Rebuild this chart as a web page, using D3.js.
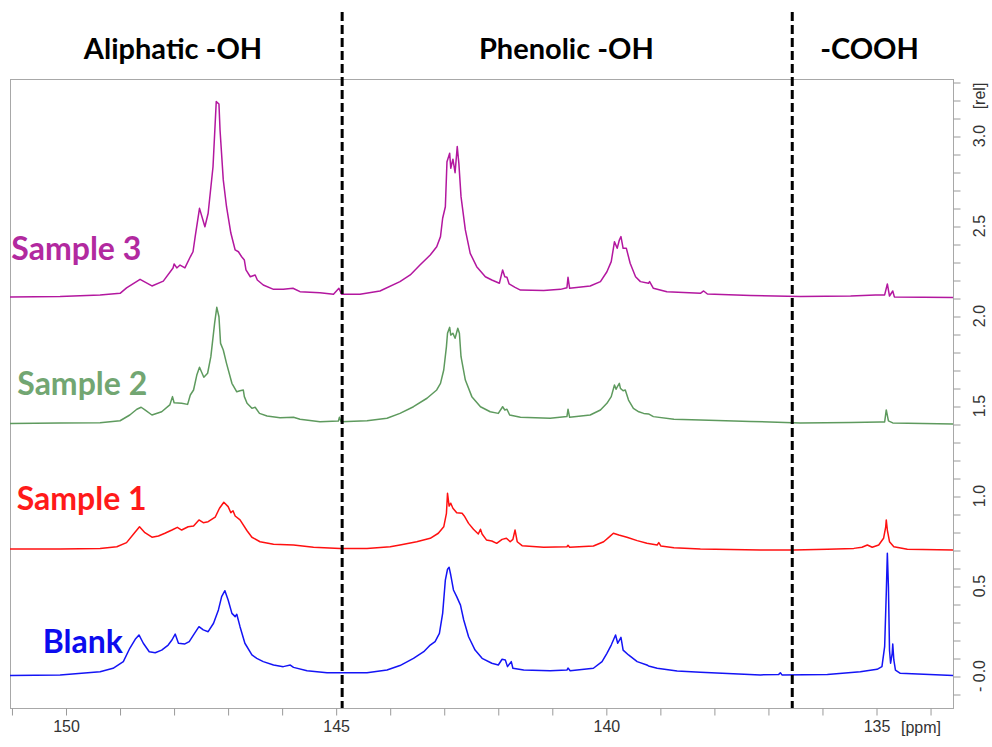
<!DOCTYPE html>
<html>
<head>
<meta charset="utf-8">
<script src="https://cdn.jsdelivr.net/npm/d3@7"></script>
<style>
  html, body { margin: 0; padding: 0; background: #fff; }
  svg { display: block; }
</style>
</head>
<body>
<svg id="chart" width="992" height="747"></svg>
<script>
// 31P NMR spectra, chemical shift in ppm vs. relative intensity (stacked traces)
const blankData = [
  [151.03,0.003],[150.10,0.006],[149.36,0.024],[149.12,0.043],[148.93,0.080],[148.81,0.154],[148.71,0.204],[148.64,0.228],
  [148.56,0.182],[148.45,0.135],[148.34,0.129],[148.22,0.144],[148.10,0.172],[148.03,0.200],[147.97,0.233],[147.91,0.182],
  [147.79,0.178],[147.71,0.191],[147.63,0.228],[147.53,0.274],[147.45,0.256],[147.36,0.246],[147.26,0.293],[147.17,0.367],
  [147.11,0.441],[147.05,0.474],[146.99,0.422],[146.92,0.348],[146.86,0.330],[146.83,0.343],[146.77,0.274],[146.68,0.182],
  [146.55,0.117],[146.46,0.098],[146.34,0.080],[146.15,0.061],[145.97,0.052],[145.84,0.061],[145.78,0.048],[145.53,0.029],
  [145.16,0.018],[144.92,0.018],[144.42,0.018],[144.05,0.033],[143.81,0.058],[143.56,0.098],[143.37,0.135],[143.25,0.172],
  [143.16,0.191],[143.08,0.237],[143.02,0.348],[142.97,0.533],[142.93,0.593],[142.90,0.604],[142.87,0.561],[142.82,0.478],
  [142.76,0.441],[142.69,0.394],[142.63,0.311],[142.54,0.218],[142.42,0.144],[142.29,0.098],[142.11,0.071],[141.99,0.061],
  [141.92,0.093],[141.86,0.089],[141.82,0.052],[141.75,0.080],[141.72,0.043],[141.52,0.033],[141.03,0.029],[140.72,0.033],
  [140.70,0.044],[140.66,0.029],[140.23,0.043],[140.07,0.080],[139.98,0.126],[139.90,0.172],[139.82,0.228],[139.78,0.182],
  [139.72,0.215],[139.68,0.144],[139.58,0.117],[139.42,0.080],[139.24,0.061],[139.21,0.056],[139.05,0.043],[138.68,0.028],
  [138.25,0.021],[137.14,0.006],[136.80,0.009],[136.77,0.018],[136.74,0.006],[135.90,0.009],[135.29,0.024],[134.98,0.037],
  [134.89,0.052],[134.84,0.163],[134.81,0.460],[134.79,0.682],[134.77,0.496],[134.75,0.144],[134.73,0.071],[134.70,0.126],
  [134.69,0.178],[134.67,0.089],[134.64,0.033],[134.55,0.015],[133.56,0.002]
];

const sample1Data = [
  [151.03,0.706],[150.10,0.706],[149.36,0.709],[149.05,0.718],[148.87,0.741],[148.74,0.789],[148.63,0.829],[148.53,0.796],
  [148.40,0.771],[148.28,0.778],[148.16,0.793],[148.03,0.811],[147.93,0.826],[147.85,0.811],[147.73,0.829],[147.63,0.833],
  [147.53,0.867],[147.45,0.852],[147.36,0.857],[147.23,0.882],[147.15,0.932],[147.07,0.965],[146.99,0.941],[146.94,0.907],
  [146.90,0.918],[146.86,0.889],[146.77,0.867],[146.64,0.807],[146.55,0.771],[146.40,0.746],[146.15,0.732],[145.78,0.728],
  [145.41,0.715],[144.92,0.709],[144.42,0.709],[143.99,0.718],[143.81,0.728],[143.50,0.746],[143.25,0.765],[143.10,0.793],
  [143.00,0.829],[142.95,0.904],[142.93,1.015],[142.90,0.944],[142.87,0.960],[142.83,0.932],[142.76,0.907],[142.66,0.904],
  [142.62,0.889],[142.54,0.848],[142.45,0.815],[142.36,0.789],[142.32,0.815],[142.29,0.789],[142.21,0.756],[142.11,0.750],
  [142.02,0.737],[141.92,0.759],[141.84,0.765],[141.77,0.746],[141.72,0.759],[141.68,0.811],[141.64,0.746],[141.55,0.724],
  [141.15,0.715],[140.72,0.718],[140.70,0.726],[140.67,0.715],[140.23,0.722],[140.04,0.746],[139.93,0.774],[139.86,0.793],
  [139.76,0.783],[139.61,0.771],[139.42,0.752],[139.24,0.737],[139.05,0.728],[139.02,0.741],[138.98,0.722],[138.74,0.713],
  [138.25,0.706],[137.14,0.700],[136.52,0.700],[135.90,0.704],[135.41,0.709],[135.26,0.715],[135.16,0.728],[135.07,0.715],
  [134.95,0.728],[134.86,0.765],[134.82,0.829],[134.81,0.867],[134.79,0.811],[134.75,0.746],[134.67,0.718],[134.42,0.704],
  [133.57,0.700]
];

const sample2Data = [
  [151.03,1.403],[150.10,1.406],[149.36,1.407],[148.99,1.418],[148.81,1.450],[148.68,1.482],[148.60,1.493],[148.53,1.478],
  [148.40,1.450],[148.22,1.468],[148.07,1.506],[148.02,1.552],[147.99,1.518],[147.85,1.515],[147.74,1.509],[147.69,1.561],
  [147.63,1.589],[147.57,1.672],[147.52,1.715],[147.44,1.660],[147.37,1.682],[147.31,1.774],[147.24,1.960],[147.20,2.048],
  [147.16,1.996],[147.13,1.848],[147.08,1.811],[147.02,1.737],[146.92,1.626],[146.83,1.579],[146.77,1.585],[146.71,1.589],
  [146.69,1.552],[146.64,1.515],[146.55,1.487],[146.49,1.493],[146.41,1.459],[146.27,1.444],[146.03,1.435],[145.78,1.437],
  [145.66,1.426],[145.29,1.413],[144.95,1.417],[144.93,1.437],[144.90,1.413],[144.42,1.418],[144.05,1.432],[143.81,1.459],
  [143.56,1.496],[143.31,1.543],[143.13,1.589],[143.06,1.626],[143.00,1.700],[142.95,1.830],[142.93,1.904],[142.89,1.937],
  [142.87,1.894],[142.83,1.904],[142.79,1.876],[142.74,1.932],[142.71,1.904],[142.68,1.774],[142.60,1.644],[142.48,1.552],
  [142.32,1.496],[142.14,1.468],[141.99,1.459],[141.91,1.496],[141.87,1.478],[141.83,1.482],[141.78,1.450],[141.58,1.437],
  [141.03,1.432],[140.72,1.441],[140.70,1.482],[140.67,1.437],[140.29,1.450],[140.10,1.478],[139.98,1.515],[139.90,1.552],
  [139.84,1.617],[139.81,1.593],[139.78,1.611],[139.75,1.626],[139.73,1.598],[139.68,1.585],[139.64,1.589],[139.58,1.533],
  [139.49,1.487],[139.39,1.468],[139.30,1.459],[139.21,1.456],[139.12,1.441],[138.74,1.426],[138.25,1.422],[137.32,1.414],
  [136.40,1.406],[135.47,1.408],[134.92,1.411],[134.84,1.411],[134.81,1.478],[134.77,1.417],[134.69,1.406],[133.57,1.400]
];

const sample3Data = [
  [151.03,2.106],[150.10,2.108],[149.36,2.117],[148.99,2.126],[148.87,2.156],[148.62,2.204],[148.40,2.167],[148.19,2.194],
  [148.01,2.267],[147.99,2.289],[147.94,2.267],[147.88,2.283],[147.79,2.267],[147.69,2.329],[147.64,2.357],[147.60,2.441],
  [147.52,2.598],[147.42,2.496],[147.36,2.571],[147.27,2.829],[147.21,3.191],[147.16,3.178],[147.14,3.033],[147.08,2.756],
  [147.02,2.607],[146.94,2.461],[146.86,2.367],[146.80,2.357],[146.74,2.329],[146.69,2.311],[146.66,2.256],[146.58,2.218],
  [146.49,2.228],[146.45,2.200],[146.34,2.172],[146.15,2.148],[145.97,2.148],[145.79,2.154],[145.66,2.135],[145.29,2.129],
  [145.04,2.121],[144.94,2.154],[144.89,2.121],[144.55,2.121],[144.18,2.139],[143.81,2.191],[143.62,2.228],[143.44,2.283],
  [143.25,2.339],[143.13,2.385],[143.06,2.441],[143.02,2.543],[142.97,2.607],[142.94,2.857],[142.89,2.904],[142.87,2.821],
  [142.83,2.871],[142.79,2.796],[142.75,2.941],[142.72,2.848],[142.68,2.663],[142.60,2.478],[142.51,2.348],[142.39,2.274],
  [142.23,2.218],[142.11,2.200],[141.97,2.182],[141.91,2.256],[141.87,2.218],[141.83,2.215],[141.79,2.178],[141.68,2.159],
  [141.58,2.144],[141.15,2.141],[140.84,2.148],[140.72,2.157],[140.70,2.215],[140.67,2.154],[140.29,2.167],[140.10,2.191],
  [139.98,2.246],[139.90,2.302],[139.84,2.413],[139.79,2.376],[139.75,2.422],[139.72,2.441],[139.68,2.376],[139.62,2.376],
  [139.55,2.293],[139.45,2.218],[139.36,2.191],[139.21,2.182],[139.19,2.191],[139.12,2.154],[138.87,2.135],[138.25,2.126],
  [138.19,2.139],[138.12,2.122],[137.32,2.114],[136.40,2.108],[135.47,2.111],[135.01,2.117],[134.84,2.117],[134.79,2.178],
  [134.75,2.111],[134.69,2.139],[134.66,2.106],[133.57,2.103]
];

const seriesNames = ["Blank", "Sample 1", "Sample 2", "Sample 3"];
const seriesData = [blankData, sample1Data, sample2Data, sample3Data];
const lineColors = ["#1414f5", "#ff1010", "#5e9a5e", "#b3179f"];
const labelColors = ["#0c0cee", "#ff1a1a", "#72a672", "#b2299f"];
// label anchor in data units: [ppm, rel]
const labelAnchors = [[149.68, 0.20], [149.70, 0.994], [149.69, 1.628], [149.80, 2.378]];

const regionNames = ["Aliphatic -OH", "Phenolic -OH", "-COOH"];
const regionCenters = [148.01, 140.73, 135.12];
const regionBounds = [144.88, 136.55];

const ppmMajorTicks = [150, 145, 140, 135];
const ppmMinorTicks = d3.range(151, 133, -1);
const relMajorTicks = [0, 0.5, 1.0, 1.5, 2.0, 2.5, 3.0];
const relMinorTicks = d3.range(-1, 34).map(i => i / 10);

const svg = d3.select("#chart");
const frame = { left: 10, right: 953, top: 79, bottom: 708 };

const x = d3.scaleLinear().domain([150, 135]).range([65.5, 876]);
const y = d3.scaleLinear().domain([0, 3]).range([676, 136]);

svg.append("defs").append("clipPath").attr("id", "plotClip")
  .append("rect")
  .attr("x", frame.left).attr("y", frame.top)
  .attr("width", frame.right - frame.left).attr("height", frame.bottom - frame.top);

// frame
svg.append("rect")
  .attr("x", frame.left + 0.5).attr("y", frame.top + 0.5)
  .attr("width", frame.right - frame.left).attr("height", frame.bottom - frame.top)
  .attr("fill", "none").attr("stroke", "#a8a8a8").attr("stroke-width", 1);

// bottom ppm axis
const xAxis = d3.axisBottom(x)
  .tickValues(ppmMinorTicks)
  .tickSize(7)
  .tickFormat(d => ppmMajorTicks.includes(d) ? d3.format("d")(d) : "");
const gx = svg.append("g")
  .attr("transform", `translate(0.5,${frame.bottom + 0.5})`)
  .call(xAxis);
gx.select(".domain").remove();
gx.selectAll(".tick line").attr("stroke", "#9a9a9a");
gx.selectAll(".tick text")
  .attr("y", 12)
  .attr("font-family", "Liberation Sans, Arial, sans-serif")
  .attr("font-size", 16)
  .attr("fill", "#333");

svg.append("text")
  .attr("x", 921).attr("y", 733)
  .attr("text-anchor", "middle")
  .attr("font-family", "Liberation Sans, Arial, sans-serif")
  .attr("font-size", 16).attr("fill", "#333")
  .text("[ppm]");

// right intensity axis
const yAxis = d3.axisRight(y)
  .tickValues(relMinorTicks)
  .tickSize(7)
  .tickFormat("");
const gy = svg.append("g")
  .attr("transform", `translate(${frame.right + 0.5},0.5)`)
  .call(yAxis);
gy.select(".domain").remove();
gy.selectAll(".tick line").attr("stroke", "#9a9a9a");

svg.append("g").selectAll("text")
  .data(relMajorTicks)
  .join("text")
  .attr("transform", d => `translate(981,${y(d)}) rotate(-90)`)
  .attr("text-anchor", "middle")
  .attr("dominant-baseline", "middle")
  .attr("font-family", "Liberation Sans, Arial, sans-serif")
  .attr("font-size", 16).attr("fill", "#333")
  .text(d => d === 0 ? "- 0.0" : d3.format(".1f")(d));

svg.append("text")
  .attr("transform", "translate(981,96) rotate(-90)")
  .attr("text-anchor", "middle")
  .attr("dominant-baseline", "middle")
  .attr("font-family", "Liberation Sans, Arial, sans-serif")
  .attr("font-size", 16).attr("fill", "#333")
  .text("[rel]");

// spectra
const line = d3.line().x(d => x(d[0])).y(d => y(d[1]));
svg.append("g").attr("clip-path", "url(#plotClip)")
  .selectAll("path")
  .data(seriesData)
  .join("path")
  .attr("d", line)
  .attr("fill", "none")
  .attr("stroke", (d, i) => lineColors[i])
  .attr("stroke-width", 1.5)
  .attr("stroke-linejoin", "round");

// region separators
svg.append("g").selectAll("line")
  .data(regionBounds)
  .join("line")
  .attr("x1", d => x(d)).attr("x2", d => x(d))
  .attr("y1", 12).attr("y2", frame.bottom)
  .attr("stroke", "#000").attr("stroke-width", 3)
  .attr("stroke-dasharray", "9,4");

// region headers
svg.append("g").selectAll("text")
  .data(regionNames)
  .join("text")
  .attr("x", (d, i) => x(regionCenters[i]))
  .attr("y", 47)
  .attr("text-anchor", "middle")
  .attr("dominant-baseline", "central")
  .attr("font-family", "Lato, 'Open Sans', sans-serif")
  .attr("font-weight", "bold")
  .attr("font-size", 29)
  .attr("fill", "#000")
  .text(d => d);

// series labels
svg.append("g").selectAll("text")
  .data(seriesNames)
  .join("text")
  .attr("x", (d, i) => x(labelAnchors[i][0]))
  .attr("y", (d, i) => y(labelAnchors[i][1]))
  .attr("text-anchor", "middle")
  .attr("dominant-baseline", "central")
  .attr("font-family", "Lato, 'Open Sans', sans-serif")
  .attr("font-weight", "bold")
  .attr("font-size", 32)
  .attr("fill", (d, i) => labelColors[i])
  .text(d => d);
</script>
</body>
</html>
